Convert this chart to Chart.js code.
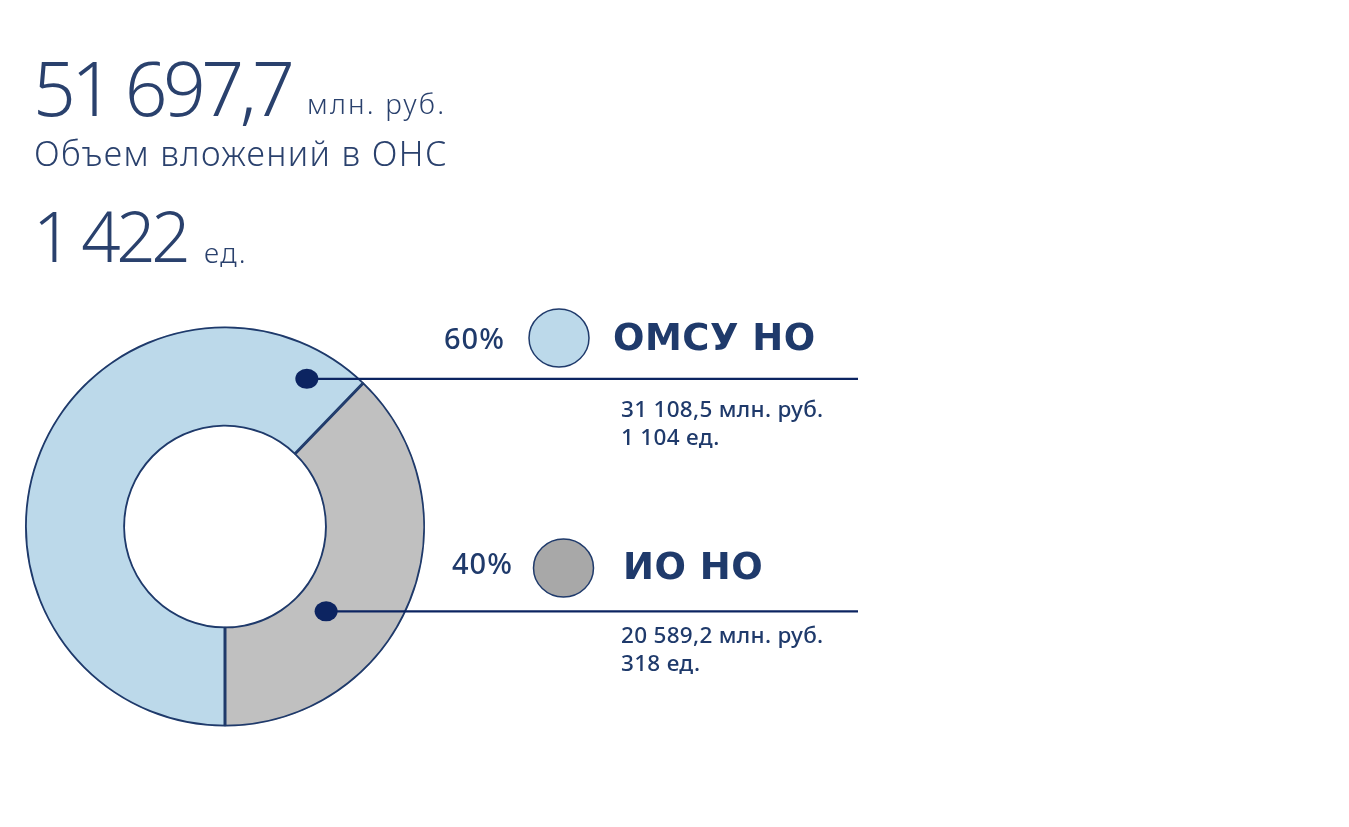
<!DOCTYPE html>
<html>
<head>
<meta charset="utf-8">
<script src="https://cdn.jsdelivr.net/npm/chart.js@4"></script>
<style>
  body { margin: 0; background: #fff; width: 1349px; height: 827px; overflow: hidden; position: relative; }
  #c { position: absolute; left: 0; top: 0; }
  .t { position: absolute; white-space: nowrap; line-height: 1; color: #2a416d; font-family: "Noto Sans", sans-serif; }
  .big { font-weight: 300; }
  .lbl { font-family: "DejaVu Sans", sans-serif; font-weight: bold; color: #1f3a6b; }
  .pct { font-weight: 500; color: #1f3a6b; }
  .sub { font-weight: 500; color: #1f3a6b; }
</style>
</head>
<body>
<canvas id="c" width="1349" height="827"></canvas>
<div id="texts"></div>
<script>
// headline values
const totalSum = "51 697,7";
const totalUnit = "млн. руб.";
const totalCaption = "Объем вложений в ОНС";
const totalCount = "1 422";
const countUnit = "ед.";

// categories and series
const categories = ["ОМСУ НО", "ИО НО"];
const percentLabels = ["60%", "40%"];
const sumLabels = ["31 108,5 млн. руб.", "20 589,2 млн. руб."];
const countLabels = ["1 104 ед.", "318 ед."];
// slice shares as drawn in the picture
const shares = [62.2, 37.8];

const fillColors = ["#bcd9ea", "#c0c0c0"];
const legendColors = ["#bcd9ea", "#a8a8a8"];
const navy = "#1f3a6b";
const dark = "#0c2461";

// page text
function addText(txt, cls, left, top, size, extra) {
  let d = document.createElement("div");
  d.className = "t " + cls;
  d.textContent = txt;
  d.style.left = left + "px";
  d.style.top = top + "px";
  d.style.fontSize = size + "px";
  if (extra) Object.assign(d.style, extra);
  document.getElementById("texts").appendChild(d);
}
addText(totalSum, "big", 33, 50, 75, {letterSpacing: "-4.5px"});
addText(totalUnit, "big", 307, 89, 28, {letterSpacing: "2.2px"});
addText(totalCaption, "big", 34, 136, 34, {letterSpacing: "1.4px"});
addText(totalCount, "big", 33, 201, 69, {letterSpacing: "-4.5px"});
addText(countUnit, "big", 204, 238, 28, {letterSpacing: "1.5px"});

// label blocks: [pctLeft, pctTop, nameLeft, nameTop, subTop]
const blocks = [
  [444, 323, 613, 319, 398],
  [452, 548, 623, 548, 624]
];
for (let i = 0; i < categories.length; i++) {
  let b = blocks[i];
  addText(percentLabels[i], "pct", b[0], b[1], 29, {letterSpacing: "1px"});
  addText(categories[i], "lbl", b[2], b[3], 37, {letterSpacing: "0.5px"});
  addText(sumLabels[i], "sub", 621, b[4], 22.5, {letterSpacing: "0.3px"});
  addText(countLabels[i], "sub", 621, b[4] + 28, 22.5, {letterSpacing: "0.3px"});
}

// dots + leader lines + legend circles
const leaders = {
  id: "leaders",
  afterDraw(chart) {
    const ctx = chart.ctx;
    const arc = chart.getDatasetMeta(0).data[0];
    const cx = arc.x, cy = arc.y, R = arc.outerRadius;
    const dots = [[29, 0.844], [130, 0.66]]; // angle from top, radius fraction
    const legendPos = [[559, 338], [563.5, 568]];
    const lineEnd = 858;
    ctx.save();
    for (let i = 0; i < dots.length; i++) {
      let a = (dots[i][0] - 90) * Math.PI / 180;
      let x = cx + Math.cos(a) * R * dots[i][1];
      let y = cy + Math.sin(a) * R * dots[i][1];
      ctx.strokeStyle = dark;
      ctx.lineWidth = 2.2;
      ctx.beginPath();
      ctx.moveTo(x, y);
      ctx.lineTo(lineEnd, y);
      ctx.stroke();
      ctx.fillStyle = dark;
      ctx.beginPath();
      ctx.ellipse(x, y, 11.5, 10, 0, 0, Math.PI * 2);
      ctx.fill();
      ctx.fillStyle = legendColors[i];
      ctx.strokeStyle = navy;
      ctx.lineWidth = 1.5;
      ctx.beginPath();
      ctx.ellipse(legendPos[i][0], legendPos[i][1], 30, 29, 0, 0, Math.PI * 2);
      ctx.fill();
      ctx.stroke();
    }
    ctx.restore();
  }
};

new Chart(document.getElementById("c"), {
  type: "doughnut",
  data: {
    labels: categories,
    datasets: [{
      data: shares,
      backgroundColor: fillColors,
      borderColor: navy,
      borderWidth: 1.5,
      borderAlign: "inner"
    }]
  },
  options: {
    responsive: false,
    animation: false,
    rotation: 180,
    cutout: "50%",
    layout: { padding: { left: 25, top: 326, right: 924, bottom: 100 } },
    plugins: { legend: { display: false }, tooltip: { enabled: false } }
  },
  plugins: [leaders]
});
</script>
</body>
</html>
